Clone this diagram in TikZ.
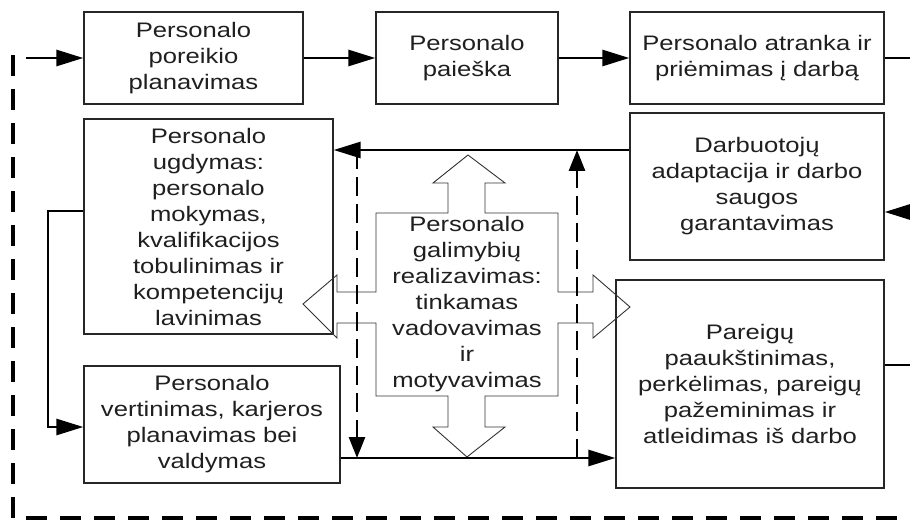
\documentclass[tikz,border=0pt]{standalone}
\usepackage{fontspec}
\setmainfont{Liberation Sans}[FakeStretch=1.22]
\usetikzlibrary{arrows.meta}

\tikzset{
  stagebox/.style={draw=black!85, line width=1.3pt, align=center, inner sep=0pt,
    font=\fontsize{21}{26}\selectfont, text=black!88},
  flow/.style={line width=2.8pt, -{Triangle[length=27pt,width=16pt]}},
  plainflow/.style={line width=2.8pt},
  dashflow/.style={line width=2.8pt, dash pattern=on 19pt off 8pt,
    -{Triangle[length=21pt,width=16pt]}},
  loopline/.style={line width=3.2pt, dash pattern=on 21pt off 13pt},
  bigarrow/.style={draw=black!80, line width=0.9pt},
  centretext/.style={align=center, inner sep=0pt,
    font=\fontsize{21}{26}\selectfont, text=black!88}
}

\begin{document}
\begin{tikzpicture}[x=1pt, y=-1pt]
  \useasboundingbox (0,0) rectangle (910,521);

  % stage boxes
  \node[stagebox, minimum width=219pt, minimum height=92pt] (plan) at (193.5,58)
    {Personalo\\poreikio\\planavimas};
  \node[stagebox, minimum width=182pt, minimum height=92pt] (search) at (467,58)
    {Personalo\\paieška};
  \node[stagebox, minimum width=254pt, minimum height=92pt] (select) at (757,58)
    {Personalo atranka ir\\priėmimas į darbą};
  \node[stagebox, minimum width=249pt, minimum height=215pt] (develop) at (208.5,226.5)
    {Personalo\\ugdymas:\\personalo\\mokymas,\\kvalifikacijos\\tobulinimas ir\\kompetencijų\\lavinimas};
  \node[stagebox, minimum width=254pt, minimum height=147pt] (adapt) at (757,186.5)
    {Darbuotojų\\adaptacija ir darbo\\saugos\\garantavimas};
  \node[stagebox, minimum width=268pt, minimum height=208pt] (move) at (750,384)
    {Pareigų\\paaukštinimas,\\perkėlimas, pareigų\\pažeminimas ir\\atleidimas iš darbo};
  \node[stagebox, minimum width=256pt, minimum height=117pt] (assess) at (212,424.5)
    {Personalo\\vertinimas, karjeros\\planavimas bei\\valdymas};

  % central four-way arrow
  \draw[bigarrow]
    (468,155) -- (505,183) -- (485,183) -- (485,213) -- (558,213) -- (558,292)
    -- (593,292) -- (593,275) -- (630,307) -- (593,338) -- (593,323) -- (558,323)
    -- (558,396) -- (485,396) -- (485,427) -- (505,427) -- (467,457) -- (433,427)
    -- (448,427) -- (448,396) -- (376,396) -- (376,323) -- (337,323) -- (337,338)
    -- (303,304) -- (337,275) -- (337,292) -- (376,292) -- (376,213) -- (448,213)
    -- (448,183) -- (433,183) -- cycle;
  \node[centretext] (core) at (467,304)
    {Personalo\\galimybių\\realizavimas:\\tinkamas\\vadovavimas\\ir\\motyvavimas};

  % free ends at the border
  \coordinate (loopin)  at (26,58);
  \coordinate (selout)  at (910,58);
  \coordinate (adaptin) at (910,212);
  \coordinate (moveout) at (910,365);
  \coordinate (devbend) at (48,211);
  \coordinate (assbend) at (48,427);
  \coordinate (topline) at (357,150);
  \coordinate (lowline) at (357,458);
  \coordinate (upfoot)  at (577,458);
  \coordinate (uphead)  at (577,150);
  \coordinate (looptop) at (13,55);
  \coordinate (loopcorner) at (13,518);
  \coordinate (loopend) at (910,518);

  % main flow
  \draw[flow] (loopin) -- (plan.west |- loopin);
  \draw[flow] (plan.east) -- (search.west);
  \draw[flow] (search.east) -- (select.west);
  \draw[plainflow] (select.east) -- (selout);
  \draw[flow] (adaptin) -- (adapt.east |- adaptin);
  \draw[plainflow] (move.east |- moveout) -- (moveout);
  \draw[flow] (adapt.west |- topline) -- (develop.east |- topline);
  \draw[flow] (develop.west |- devbend) -- (devbend) -- (assbend) -- (assess.west |- assbend);
  \draw[flow] (assess.east |- lowline) -- (move.west |- lowline);

  % dashed feedback arrows
  \draw[dashflow] (topline) -- (lowline);
  \draw[dashflow] (upfoot) -- (uphead);
  \draw[loopline] (looptop) -- (loopcorner) -- (loopend);
\end{tikzpicture}
\end{document}
